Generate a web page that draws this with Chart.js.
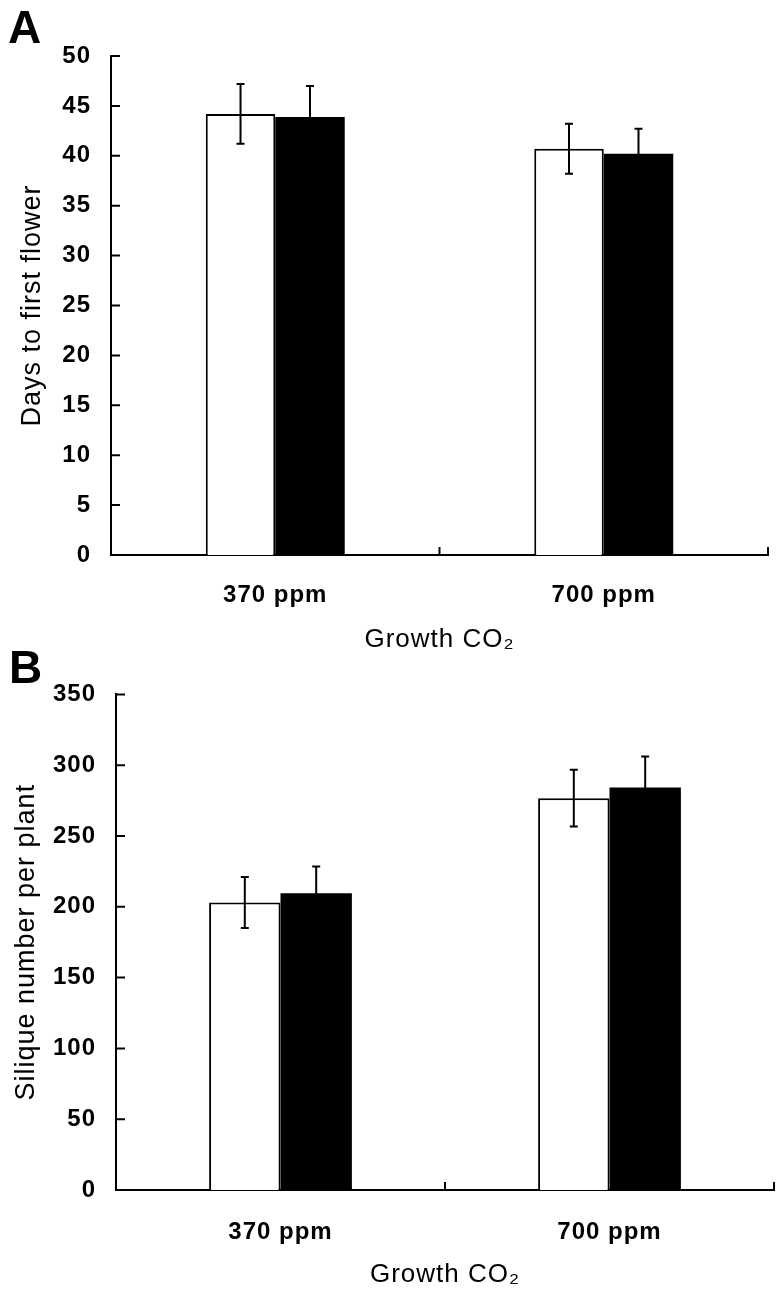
<!DOCTYPE html>
<html>
<head>
<meta charset="utf-8">
<script src="https://cdn.jsdelivr.net/npm/chart.js@4.4.0/dist/chart.umd.min.js"></script>
<style>
  body { margin: 0; background: #fff; }
  #page { position: relative; width: 783px; height: 1290px; overflow: hidden; background: #fff; }
  canvas { position: absolute; left: 0; }
  .letter { position: absolute; font: bold 46px "Liberation Sans", Arial, sans-serif; line-height: 46px; color: #000; }
</style>
</head>
<body>
<div id="page">
  <canvas id="chartA" width="783" height="660" style="top:0"></canvas>
  <canvas id="chartB" width="783" height="630" style="top:660px"></canvas>
  <div class="letter" style="left:8px;top:4px">A</div>
  <div class="letter" style="left:9px;top:644px">B</div>
</div>
<script>
// categories
const categories = ['370 ppm', '700 ppm'];

// A - days to first flower (white / black bars, with SE)
const daysWhite = [44.2, 40.7];
const daysWhiteErr = [3.0, 2.5];
const daysBlack = [43.9, 40.2];
const daysBlackErr = [3.1, 2.5];

// B - silique number per plant
const siliqueWhite = [203, 276.7];
const siliqueWhiteErr = [18, 20];
const siliqueBlack = [209.5, 284.2];
const siliqueBlackErr = [19, 22];

const FONT = '"Liberation Sans", Arial, sans-serif';

// error bars drawn from the y scale
const errorBars = {
    id: 'errorBars',
    afterDatasetsDraw(chart) {
        const ctx = chart.ctx;
        const y = chart.scales.y;
        ctx.save();
        ctx.strokeStyle = '#000';
        ctx.lineWidth = 2;
        chart.data.datasets.forEach((ds, i) => {
            const meta = chart.getDatasetMeta(i);
            meta.data.forEach((bar, j) => {
                const v = ds.data[j];
                const e = ds.errors[j];
                const top = y.getPixelForValue(v + e);
                const bot = y.getPixelForValue(v - e);
                ctx.beginPath();
                ctx.moveTo(bar.x, top);
                ctx.lineTo(bar.x, bot);
                ctx.moveTo(bar.x - 4, top);
                ctx.lineTo(bar.x + 4, top);
                ctx.moveTo(bar.x - 4, bot);
                ctx.lineTo(bar.x + 4, bot);
                ctx.stroke();
            });
        });
        ctx.restore();
    }
};

// tick marks pointing into the plot area
const innerTicks = {
    id: 'innerTicks',
    afterDraw(chart) {
        const ctx = chart.ctx;
        const x = chart.scales.x;
        const y = chart.scales.y;
        ctx.save();
        ctx.strokeStyle = '#000';
        ctx.lineWidth = 2;
        ctx.beginPath();
        y.ticks.forEach((t, i) => {
            const py = y.getPixelForTick(i);
            ctx.moveTo(y.right, py);
            ctx.lineTo(y.right + 9, py);
        });
        const edges = [x.left, (x.getPixelForTick(0) + x.getPixelForTick(1)) / 2, x.right];
        edges.forEach(px => {
            ctx.moveTo(px, x.top);
            ctx.lineTo(px, x.top - 8);
        });
        ctx.stroke();
        ctx.restore();
    }
};

// the original lettering is a little wider than Arial
const spacing = {
    id: 'spacing',
    beforeDraw(chart) {
        chart.ctx.letterSpacing = '1px';
    }
};

function makeChart(id, white, whiteErr, black, blackErr, cfg) {
    const ctx = document.getElementById(id).getContext('2d');
    return new Chart(ctx, {
        type: 'bar',
        data: {
            labels: categories,
            datasets: [{
                data: white,
                errors: whiteErr,
                backgroundColor: '#fff',
                borderColor: '#000',
                borderWidth: 2,
                categoryPercentage: cfg.catPct,
                barPercentage: 1
            }, {
                data: black,
                errors: blackErr,
                backgroundColor: '#000',
                borderColor: '#000',
                borderWidth: 0,
                categoryPercentage: cfg.catPct,
                barPercentage: 1
            }]
        },
        options: {
            responsive: false,
            animation: false,
            layout: { padding: cfg.padding },
            plugins: { legend: { display: false }, tooltip: { enabled: false } },
            scales: {
                x: {
                    grid: { display: false, drawTicks: false },
                    border: { color: '#000', width: 2 },
                    ticks: { color: '#000', font: { family: FONT, size: 24, weight: 'bold' }, padding: cfg.xTickPad },
                    title: {
                        display: true,
                        text: 'Growth CO\u2082',
                        color: '#000',
                        font: { family: FONT, size: 26, weight: 'normal' },
                        padding: { top: 0, bottom: cfg.xTitlePad }
                    },
                    afterFit: s => { s.height = cfg.xHeight; }
                },
                y: {
                    min: 0,
                    max: cfg.yMax,
                    grid: { display: false, drawTicks: false },
                    border: { color: '#000', width: 2 },
                    ticks: { stepSize: cfg.yStep, color: '#000', font: { family: FONT, size: 24, weight: 'bold' }, padding: 20 },
                    title: {
                        display: true,
                        text: cfg.yTitle,
                        color: '#000',
                        font: { family: FONT, size: 27, weight: 'normal' },
                        padding: { top: cfg.yTitlePad, bottom: 0 }
                    },
                    afterFit: s => { s.width = cfg.yWidth; }
                }
            }
        },
        plugins: [spacing, errorBars, innerTicks]
    });
}

makeChart('chartA', daysWhite, daysWhiteErr, daysBlack, daysBlackErr, {
    catPct: 0.423,
    padding: { top: 56, right: 15, left: 0, bottom: 0 },
    xTickPad: 26, xTitlePad: 5, xHeight: 105,
    yMax: 50, yStep: 5, yTitle: 'Days to first flower', yTitlePad: 16, yWidth: 111
});

makeChart('chartB', siliqueWhite, siliqueWhiteErr, siliqueBlack, siliqueBlackErr, {
    catPct: 0.434,
    padding: { top: 30, right: 9, left: 0, bottom: 0 },
    xTickPad: 28, xTitlePad: 0, xHeight: 100,
    yMax: 350, yStep: 50, yTitle: 'Silique number per plant', yTitlePad: 10, yWidth: 116
});
</script>
</body>
</html>
